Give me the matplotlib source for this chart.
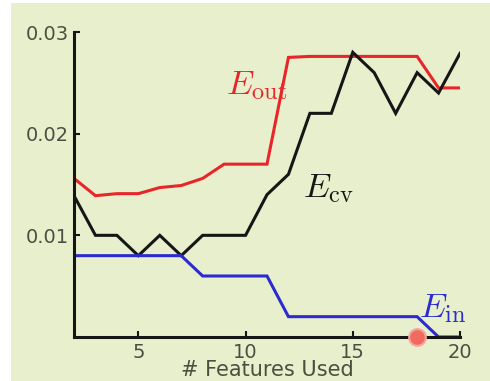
import matplotlib
matplotlib.use('Agg')
import matplotlib.pyplot as plt
from matplotlib.patches import Rectangle

# number of features used
features = list(range(2, 21))

e_out = [0.0156, 0.0139, 0.0141, 0.0141, 0.0147, 0.0149, 0.0156, 0.0170, 0.0170,
         0.0170, 0.0275, 0.0276, 0.0276, 0.0276, 0.0276, 0.0276, 0.0276, 0.0245, 0.0245]
e_cv = [0.0139, 0.0100, 0.0100, 0.0080, 0.0100, 0.0080, 0.0100, 0.0100, 0.0100,
        0.0140, 0.0160, 0.0220, 0.0220, 0.0280, 0.0260, 0.0220, 0.0260, 0.0240, 0.0279]
e_in = [0.008, 0.008, 0.008, 0.008, 0.008, 0.008, 0.006, 0.006, 0.006,
        0.006, 0.002, 0.002, 0.002, 0.002, 0.002, 0.002, 0.002, 0.0, 0.0]

best_x = 18
best_y = 0.0

xticks = [5, 10, 15, 20]
yticks = [0.01, 0.02, 0.03]
ytick_labels = ['0.01', '0.02', '0.03']

plt.rcParams['mathtext.fontset'] = 'cm'
bg = '#e8efcd'
txt = '#4a5040'

fig = plt.figure(figsize=(4.9, 3.81), dpi=100)
fig.patch.set_facecolor('white')
fig.patches.append(Rectangle((11 / 490, 0), 1, 378 / 381, transform=fig.transFigure,
                             facecolor=bg, edgecolor='none', zorder=-10))
ax = fig.add_axes([74 / 490, 44 / 381, 386 / 490, 305 / 381])
ax.set_facecolor('none')

ax.plot(features, e_out, color='#e8262a', lw=2.2, solid_joinstyle='miter')
ax.plot(features, e_cv, color='#161616', lw=2.2, solid_joinstyle='miter')
ax.plot(features, e_in, color='#2b2bd0', lw=2.2, solid_joinstyle='miter')
ax.plot([best_x], [best_y], 'o', ms=12, color='#f06a60', mec='#f3a49c', mew=1.5,
        clip_on=False, zorder=5)

ax.text(9.1, 0.0239, r'$E_{\rm out}$', color='#e8262a', fontsize=25, ha='left', va='baseline')
ax.text(12.7, 0.0138, r'$E_{\rm cv}$', color='#161616', fontsize=25, ha='left', va='baseline')
ax.text(18.1, 0.0020, r'$E_{\rm in}$', color='#2b2bd0', fontsize=25, ha='left', va='baseline')

ax.set_xlim(2, 20)
ax.set_ylim(0, 0.03)
ax.set_xticks(xticks)
ax.set_yticks(yticks)
ax.set_yticklabels(ytick_labels)
ax.tick_params(direction='in', length=4, width=1.5, colors='#161616',
               labelcolor=txt, labelsize=14, pad=4)
for s in ['top', 'right']:
    ax.spines[s].set_visible(False)
for s in ['left', 'bottom']:
    ax.spines[s].set_linewidth(2.2)
    ax.spines[s].set_color('#161616')

ax.set_xlabel('# Features Used', fontsize=15, color=txt, labelpad=-1)

fig.savefig('out.png', dpi=100, facecolor=fig.get_facecolor())
